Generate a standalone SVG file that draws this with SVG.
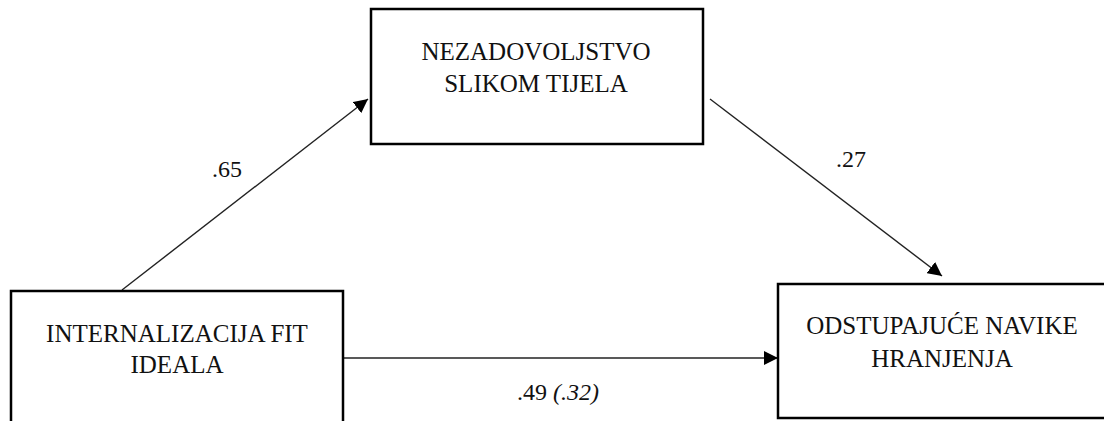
<svg xmlns="http://www.w3.org/2000/svg" width="1104" height="421" viewBox="0 0 1104 421">
<style>
.box{fill:#fff;stroke:#000;stroke-width:2.5}
.t{font-family:'Liberation Serif','DejaVu Serif',serif;font-size:25px;fill:#111;text-anchor:middle}
.l{font-family:'Liberation Serif','DejaVu Serif',serif;font-size:24px;fill:#111}
.c{stroke:#222;stroke-width:1.4;fill:none;marker-end:url(#ah)}
</style>
<defs>
<marker id="ah" viewBox="0 0 10 10" refX="10" refY="5" markerWidth="14" markerHeight="14" markerUnits="userSpaceOnUse" orient="auto">
<path d="M0,0 L10,5 L0,10 Z" fill="#000"/>
</marker>
</defs>
<rect width="1104" height="421" fill="#fff"/>
<g id="connectors">
<line class="c" x1="122" y1="290" x2="368" y2="99"/>
<line class="c" x1="710" y1="99" x2="942" y2="276"/>
<line class="c" x1="343" y1="358" x2="778" y2="358"/>
<text class="l" x="212" y="177">.65</text>
<text class="l" x="836" y="167">.27</text>
<text class="l" x="517" y="400">.49 <tspan font-style="italic">(.32)</tspan></text>
</g>
<g id="node-internalizacija">
<rect class="box" x="11" y="291" width="332" height="140"/>
<text class="t" x="177" y="342">INTERNALIZACIJA FIT</text>
<text class="t" x="177" y="373">IDEALA</text>
</g>
<g id="node-nezadovoljstvo">
<rect class="box" x="371" y="9" width="332" height="135"/>
<text class="t" x="536" y="60">NEZADOVOLJSTVO</text>
<text class="t" x="536" y="92">SLIKOM TIJELA</text>
</g>
<g id="node-odstupajuce">
<rect class="box" x="778" y="284" width="330" height="134"/>
<text class="t" x="942" y="334">ODSTUPAJUĆE NAVIKE</text>
<text class="t" x="942" y="367">HRANJENJA</text>
</g>
</svg>
